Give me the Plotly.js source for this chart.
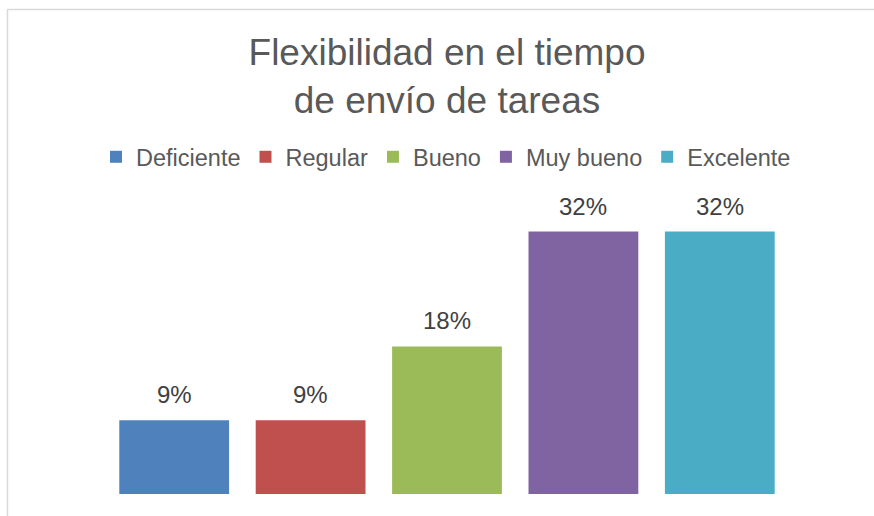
<!DOCTYPE html>
<html>
<head>
<meta charset="utf-8">
<script src="https://cdn.plot.ly/plotly-3.0.1.min.js"></script>
<style>
html,body{margin:0;padding:0;background:#fff;}
#chart{width:874px;height:516px;}
</style>
</head>
<body>
<div id="chart"></div>
<script>
const categories = ["Deficiente", "Regular", "Bueno", "Muy bueno", "Excelente"];
const values = [9, 9, 18, 32, 32];
const colors = ["#4f81bd", "#c0504d", "#9bbb59", "#8064a2", "#4bacc6"];
const titleText = "Flexibilidad en el tiempo<br>de envío de tareas";

const FONT = "Liberation Sans, Arial, sans-serif";

const traces = categories.map((c, i) => ({
  type: "bar",
  name: c,
  x: [c],
  y: [values[i]],
  marker: {color: colors[i]},
  hoverinfo: "none",
  cliponaxis: false
}));

const annotations = categories.map((c, i) => ({
  x: c, y: values[i], xref: "x", yref: "y",
  text: values[i] + "%",
  showarrow: false,
  yanchor: "bottom",
  yshift: 10,
  font: {family: FONT, size: 24, color: "#404040"}
}));

const layout = {
  width: 874, height: 516,
  paper_bgcolor: "#ffffff", plot_bgcolor: "#ffffff",
  margin: {l: 106, r: 86, t: 207, b: 22, pad: 0, autoexpand: false},
  barmode: "overlay",
  bargap: 0.195,
  title: {
    text: titleText,
    font: {family: FONT, size: 37, color: "#595959"},
    x: 447/874, xref: "container", xanchor: "center",
    y: 1 - 65/516, yref: "container", yanchor: "top"
  },
  showlegend: true,
  legend: {
    orientation: "h",
    x: (112 - 16 - 106)/682, xref: "paper", xanchor: "left",
    y: (494 - 135)/287, yref: "paper", yanchor: "top",
    font: {family: FONT, size: 23.5, color: "#595959"},
    bgcolor: "rgba(0,0,0,0)"
  },
  xaxis: {visible: false, type: "category", categoryorder: "array", categoryarray: categories, range: [-0.5, 4.5], fixedrange: true},
  yaxis: {visible: false, range: [0, 35], fixedrange: true},
  annotations: annotations,
  shapes: [
    {type: "line", xref: "paper", yref: "paper",
     x0: (7.5-106)/682, x1: (7.5-106)/682, y0: (494-9)/287, y1: (494-520)/287,
     line: {color: "#d9d9d9", width: 1.5}},
    {type: "line", xref: "paper", yref: "paper",
     x0: (7.5-106)/682, x1: (880-106)/682, y0: (494-9.5)/287, y1: (494-9.5)/287,
     line: {color: "#d9d9d9", width: 1.5}}
  ]
};

Plotly.newPlot("chart", traces, layout, {displayModeBar: false, staticPlot: true});
</script>
</body>
</html>
